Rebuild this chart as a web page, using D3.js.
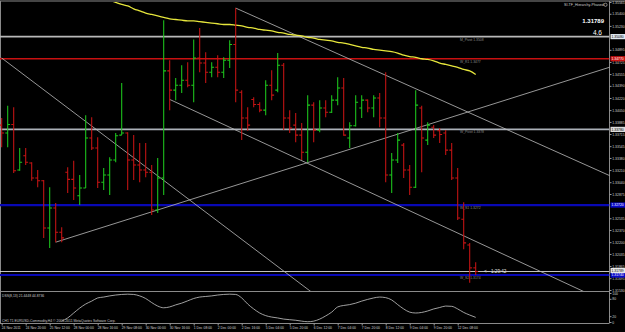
<!DOCTYPE html>
<html>
<head>
<meta charset="utf-8">
<script src="https://cdn.jsdelivr.net/npm/d3@7"></script>
<style>
  body { margin: 0; background: #000; }
  svg { display: block; }
  text { font-family: "Liberation Sans", Arial, sans-serif; }
</style>
</head>
<body>
<svg id="chart" width="625" height="332"></svg>
<script>
// H4 bars, 24 Nov 2011 04:00 .. 12 Dec 2011 20:00
let opens = [
  1.3384, 1.3373, 1.3385, 1.3321, 1.3341, 1.3331, 1.3310, 1.3306, 1.3240, 1.3268,
  1.3234, 1.3318, 1.3308, 1.3285, 1.3296, 1.3366, 1.3352, 1.3304, 1.3314, 1.3335,
  1.3370, 1.3373, 1.3335, 1.3328, 1.3321, 1.3318, 1.3265, 1.3310, 1.3460, 1.3433,
  1.3440, 1.3447, 1.3440, 1.3478, 1.3471, 1.3458, 1.3465, 1.3458, 1.3475, 1.3497,
  1.3430, 1.3394, 1.3420, 1.3413, 1.3405, 1.3440, 1.3433, 1.3468, 1.3394, 1.3384,
  1.3370, 1.3346, 1.3412, 1.3377, 1.3408, 1.3402, 1.3419, 1.3436, 1.3366, 1.3383,
  1.3408, 1.3419, 1.3408, 1.3422, 1.3394, 1.3314, 1.3335, 1.3356, 1.3321, 1.3297,
  1.3408, 1.3363, 1.3381, 1.3376, 1.3373, 1.3349, 1.3310, 1.3252, 1.3216, 1.3184
]
let highs = [
  1.3394, 1.3411, 1.3409, 1.3352, 1.3352, 1.3332, 1.3321, 1.3307, 1.3297, 1.3275,
  1.3241, 1.3325, 1.3334, 1.3314, 1.3398, 1.3395, 1.3367, 1.3324, 1.3339, 1.3373,
  1.3443, 1.3374, 1.3370, 1.3359, 1.3359, 1.3328, 1.3338, 1.3531, 1.3475, 1.3450,
  1.3468, 1.3472, 1.3504, 1.3520, 1.3486, 1.3472, 1.3482, 1.3479, 1.3503, 1.3548,
  1.3433, 1.3409, 1.3423, 1.3416, 1.3447, 1.3461, 1.3485, 1.3471, 1.3405, 1.3401,
  1.3387, 1.3426, 1.3416, 1.3419, 1.3419, 1.3426, 1.3451, 1.3450, 1.3388, 1.3426,
  1.3426, 1.3420, 1.3426, 1.3429, 1.3458, 1.3345, 1.3373, 1.3359, 1.3328, 1.3433,
  1.3411, 1.3388, 1.3384, 1.3380, 1.3377, 1.3359, 1.3324, 1.3276, 1.3219, 1.3192
]
let lows = [
  1.3353, 1.3353, 1.3317, 1.3320, 1.3328, 1.3306, 1.3297, 1.3226, 1.3212, 1.3220,
  1.3220, 1.3289, 1.3279, 1.3272, 1.3296, 1.3349, 1.3296, 1.3293, 1.3286, 1.3332,
  1.3370, 1.3293, 1.3307, 1.3304, 1.3311, 1.3258, 1.3261, 1.3286, 1.3405, 1.3419,
  1.3429, 1.3437, 1.3416, 1.3458, 1.3443, 1.3451, 1.3451, 1.3450, 1.3464, 1.3416,
  1.3363, 1.3376, 1.3409, 1.3402, 1.3398, 1.3419, 1.3430, 1.3377, 1.3373, 1.3360,
  1.3335, 1.3332, 1.3360, 1.3374, 1.3395, 1.3401, 1.3412, 1.3369, 1.3352, 1.3382,
  1.3394, 1.3402, 1.3395, 1.3381, 1.3304, 1.3289, 1.3331, 1.3310, 1.3286, 1.3296,
  1.3318, 1.3356, 1.3366, 1.3359, 1.3342, 1.3307, 1.3251, 1.3210, 1.3163, 1.3174
]
let closes = [
  1.3373, 1.3385, 1.3320, 1.3332, 1.3332, 1.3310, 1.3306, 1.3240, 1.3268, 1.3234,
  1.3226, 1.3308, 1.3296, 1.3296, 1.3366, 1.3352, 1.3304, 1.3314, 1.3335, 1.3369,
  1.3373, 1.3335, 1.3328, 1.3321, 1.3318, 1.3265, 1.3310, 1.3460, 1.3433, 1.3440,
  1.3447, 1.3440, 1.3478, 1.3471, 1.3458, 1.3465, 1.3458, 1.3475, 1.3497, 1.3433,
  1.3394, 1.3384, 1.3413, 1.3405, 1.3440, 1.3426, 1.3468, 1.3394, 1.3380, 1.3370,
  1.3346, 1.3412, 1.3377, 1.3408, 1.3402, 1.3419, 1.3436, 1.3370, 1.3383, 1.3416,
  1.3419, 1.3408, 1.3422, 1.3394, 1.3314, 1.3335, 1.3363, 1.3321, 1.3297, 1.3412,
  1.3366, 1.3384, 1.3370, 1.3371, 1.3349, 1.3310, 1.3254, 1.3219, 1.3184, 1.31789
]

// yellow moving average, from bar 15 on
let maStart = 15
let maValues = [
  1.3570, 1.3566, 1.3562, 1.3559, 1.3556, 1.3553, 1.3551, 1.3547, 1.3544, 1.3541,
  1.3539, 1.3537, 1.3535, 1.3533, 1.3532, 1.3531, 1.3530, 1.3530, 1.3529, 1.3528,
  1.3527, 1.3526, 1.3525, 1.3525, 1.3524, 1.3523, 1.3521, 1.3520, 1.3518, 1.3517,
  1.3516, 1.3514, 1.3513, 1.3511, 1.3510, 1.3509, 1.3507, 1.3506, 1.3504, 1.3503,
  1.3502, 1.3500, 1.3499, 1.3497, 1.3495, 1.3493, 1.3492, 1.3490, 1.3489, 1.3488,
  1.3487, 1.3485, 1.3482, 1.3480, 1.3479, 1.3477, 1.3476, 1.3474, 1.3471, 1.3469,
  1.3467, 1.3465, 1.3462, 1.3460, 1.3455
]

// DSS line in the sub window, from bar 10 on
let dssStart = 10
let dssValues = [
  3, 14, 31, 48, 62, 72, 83, 86, 90, 93,
  95, 96, 95, 90, 81, 67, 55, 49, 52, 59,
  65, 73, 81, 86, 88, 90, 93, 95, 96, 95,
  83, 62, 45, 31, 22, 17, 14, 10, 8, 6,
  3, 1, 3, 10, 21, 34, 52, 57, 60, 65,
  72, 78, 83, 86, 84, 76, 60, 45, 34, 31,
  33, 38, 45, 50, 55, 54, 45, 33, 24, 16
]

// horizontal pivot levels
let levelNames = ['M_Pivot', 'W_R1', 'W_Pivot', 'W_S1', 'W_S2']
let levelValues = [1.3508, 1.3477, 1.3378, 1.3272, 1.3174]
let lastPrice = 1.31789

// trend lines: [bar, price] anchor pairs
let trendLines = [
  [[0, 1.3478], [40, 1.3224]],
  [[9, 1.3220], [67, 1.3374]],
  [[39, 1.3548], [69, 1.3435]],
  [[28, 1.3420], [68, 1.3264]]
]

let timeBars = [0, 4, 8, 12, 16, 20, 24, 28, 32, 36, 40, 44, 48, 52, 56, 60, 64, 68, 72, 76]
let timeLabels = [
  '24 Nov 2011', '24 Nov 20:00', '25 Nov 12:00', '28 Nov 00:00', '28 Nov 16:00',
  '29 Nov 08:00', '30 Nov 00:00', '30 Nov 16:00', '1 Dec 08:00', '2 Dec 00:00',
  '2 Dec 16:00', '5 Dec 04:00', '5 Dec 20:00', '6 Dec 12:00', '7 Dec 04:00',
  '7 Dec 20:00', '8 Dec 12:00', '9 Dec 04:00', '9 Dec 20:00', '12 Dec 08:00'
]
let priceTicks = [
  1.35565, 1.35400, 1.35230, 1.35060, 1.34895, 1.34725, 1.34555, 1.34390, 1.34220,
  1.34050, 1.33885, 1.33715, 1.33545, 1.33380, 1.33210, 1.33040, 1.32875, 1.32705,
  1.32535, 1.32370, 1.32200, 1.32035, 1.31865, 1.31695, 1.31530
]
let dssTicks = [0, 20, 80, 100]

let bars = opens.map((o, i) => ({i, o, h: highs[i], l: lows[i], c: closes[i]}))

let svg = d3.select('#chart')
let plotRight = 609.5
let font = '"Liberation Sans", Arial, sans-serif'

let x = d3.scaleLinear().domain([0, 79]).range([1.7, 475.7])
let y = d3.scaleLinear().domain([1.3153, 1.35565]).range([290, 2])
let yDss = d3.scaleLinear().domain([0, 100]).range([322, 293])

svg.append('rect').attr('width', 625).attr('height', 332).attr('fill', '#000')

let defs = svg.append('defs')
defs.append('clipPath').attr('id', 'mainClip')
  .append('rect').attr('x', 0).attr('y', 2).attr('width', plotRight).attr('height', 289)
defs.append('clipPath').attr('id', 'dssClip')
  .append('rect').attr('x', 0).attr('y', 292).attr('width', plotRight).attr('height', 31)

// frame
let frame = svg.append('g').attr('stroke', '#8a8a8a').attr('fill', 'none')
frame.append('line').attr('x1', 0).attr('x2', 625).attr('y1', 1).attr('y2', 1)
frame.append('line').attr('x1', 0.5).attr('x2', 0.5).attr('y1', 1).attr('y2', 323)
frame.append('line').attr('x1', plotRight).attr('x2', plotRight).attr('y1', 1).attr('y2', 323)
frame.append('line').attr('x1', 0).attr('x2', plotRight).attr('y1', 291.5).attr('y2', 291.5)
frame.append('line').attr('x1', 0).attr('x2', plotRight).attr('y1', 323.5).attr('y2', 323.5)

let main = svg.append('g').attr('clip-path', 'url(#mainClip)')

// level lines
let levelColor = {M_Pivot: '#b8b8b8', W_R1: '#c81010', W_Pivot: '#aab0b8', W_S1: '#0808b4', W_S2: '#0808b4'}
let levelWidth = {M_Pivot: 1.6, W_R1: 1.6, W_Pivot: 1.6, W_S1: 2.2, W_S2: 2.2}

main.selectAll('.level')
  .data(levelNames)
  .enter()
  .append('line')
  .attr('x1', 0).attr('x2', plotRight)
  .attr('y1', (d, i) => y(levelValues[i])).attr('y2', (d, i) => y(levelValues[i]))
  .attr('stroke', d => levelColor[d])
  .attr('stroke-width', d => levelWidth[d])

main.selectAll('.level-text')
  .data(levelNames)
  .enter()
  .append('text')
  .attr('x', 460)
  .attr('y', (d, i) => y(levelValues[i]) + 4)
  .attr('fill', '#8c8c8c')
  .attr('font-size', 3.4)
  .text((d, i) => `${d} ${levelValues[i].toFixed(4)}`)

// bid line
main.append('line')
  .attr('x1', 0).attr('x2', plotRight)
  .attr('y1', y(lastPrice)).attr('y2', y(lastPrice))
  .attr('stroke', '#d8d8d8').attr('stroke-width', 0.9)

// trend lines, drawn as rays
main.selectAll('.trend')
  .data(trendLines)
  .enter()
  .append('line')
  .attr('stroke', '#bdbdbd')
  .attr('stroke-width', 0.8)
  .each(function (d) {
    let [a, b] = d
    let x1 = x(a[0]), y1 = y(a[1]), x2 = x(b[0]), y2 = y(b[1])
    let k = (y2 - y1) / (x2 - x1)
    d3.select(this)
      .attr('x1', x1).attr('y1', y1)
      .attr('x2', 700).attr('y2', y1 + k * (700 - x1))
  })

// moving average
let maLine = d3.line()
  .x((d, i) => x(maStart + i))
  .y(d => y(d))
  .curve(d3.curveMonotoneX)

main.append('path')
  .datum(maValues)
  .attr('d', maLine)
  .attr('fill', 'none')
  .attr('stroke', '#e6e63c')
  .attr('stroke-width', 1.3)

// OHLC bars
let bar = main.selectAll('.bar')
  .data(bars)
  .enter()
  .append('g')
  .attr('stroke', d => d.c >= d.o ? '#1ec81e' : '#c81414')
  .attr('stroke-width', 1.05)

bar.append('line')
  .attr('x1', d => x(d.i)).attr('x2', d => x(d.i))
  .attr('y1', d => y(d.h)).attr('y2', d => y(d.l))
bar.append('line')
  .attr('x1', d => x(d.i) - 2.4).attr('x2', d => x(d.i))
  .attr('y1', d => y(d.o)).attr('y2', d => y(d.o))
bar.append('line')
  .attr('x1', d => x(d.i)).attr('x2', d => x(d.i) + 2.4)
  .attr('y1', d => y(d.c)).attr('y2', d => y(d.c))

// countdown
main.append('text')
  .attr('x', 484).attr('y', y(lastPrice) + 1.6)
  .attr('fill', '#e0e0e0').attr('font-size', 4.6)
  .text('<-- 1:29:42')

// DSS sub window
let dssLine = d3.line()
  .x((d, i) => x(dssStart + i))
  .y(d => yDss(d))
  .curve(d3.curveMonotoneX)

svg.append('g').attr('clip-path', 'url(#dssClip)')
  .append('path')
  .datum(dssValues)
  .attr('d', dssLine)
  .attr('fill', 'none')
  .attr('stroke', '#c8c8c8')
  .attr('stroke-width', 0.8)

svg.append('text')
  .attr('x', 2).attr('y', 297)
  .attr('fill', '#c8c8c8').attr('font-size', 3.4)
  .text('DSS(8,13) 21.4448 44.8736')

svg.append('text')
  .attr('x', 2).attr('y', 322)
  .attr('fill', '#c8c8c8').attr('font-size', 3.4)
  .text('CH1 T1 EURUSD-Commodity,H4  © 2001-2011 MetaQuotes Software Corp.')

// price axis, labels hidden where a level box sits on them
let boxValues = levelValues.concat([lastPrice])
let freeTicks = priceTicks.filter(t => boxValues.every(v => Math.abs(y(t) - y(v)) > 3.2))

let priceAxis = svg.append('g')
  .attr('transform', `translate(${plotRight},0)`)
  .call(d3.axisRight(y).tickValues(freeTicks).tickFormat(d3.format('.5f')).tickSize(2).tickPadding(0.8))
let dssAxis = svg.append('g')
  .attr('transform', `translate(${plotRight},0)`)
  .call(d3.axisRight(yDss).tickValues(dssTicks).tickSize(2).tickPadding(0.8))

let timeAxis = svg.append('g')
  .attr('transform', 'translate(0,323.5)')
  .call(d3.axisBottom(x).tickValues(timeBars).tickFormat((d, i) => timeLabels[i]).tickSize(2).tickPadding(0.8))

for (let ax of [priceAxis, dssAxis, timeAxis]) {
  ax.select('.domain').remove()
  ax.selectAll('line').attr('stroke', '#9a9a9a')
  ax.selectAll('text').attr('fill', '#d0d0d0').attr('font-size', 3.4)
    .attr('font-family', font)
}
timeAxis.selectAll('text').attr('text-anchor', 'start').attr('dx', '-0.5')

// price boxes on the axis
let boxFill = {M_Pivot: '#dfe8f0', W_R1: '#c81010', W_Pivot: '#dcdcdc', W_S1: '#0808c8', W_S2: '#0808c8'}
let boxText = {M_Pivot: '#000', W_R1: '#fff', W_Pivot: '#000', W_S1: '#fff', W_S2: '#fff'}
let boxes = svg.selectAll('.pbox')
  .data(levelNames)
  .enter()
  .append('g')
  .attr('transform', (d, i) => `translate(${plotRight + 1},${y(levelValues[i])})`)
boxes.append('rect')
  .attr('x', 0).attr('y', -2.6).attr('width', 15).attr('height', 5.2)
  .attr('fill', d => boxFill[d])
boxes.append('text')
  .attr('x', 1).attr('y', 1.2)
  .attr('font-size', 3.4)
  .attr('fill', d => boxText[d])
  .text((d, i) => levelValues[i].toFixed(5))

let lastBox = svg.append('g').attr('transform', `translate(${plotRight + 1},${y(lastPrice) - 1})`)
lastBox.append('rect').attr('x', 0).attr('y', -2.6).attr('width', 15).attr('height', 5.2).attr('fill', '#e8e8e8')
lastBox.append('text').attr('x', 1).attr('y', 1.2).attr('font-size', 3.4).attr('fill', '#000').text(lastPrice.toFixed(5))

// top right info
svg.append('text')
  .attr('x', 564).attr('y', 6)
  .attr('fill', '#d0d0d0').attr('font-size', 3.6)
  .text('SI-TF_Hierarchy-Phased')
svg.append('circle')
  .attr('cx', 605.5).attr('cy', 4.8).attr('r', 1.6)
  .attr('fill', 'none').attr('stroke', '#d0d0d0').attr('stroke-width', 0.6)
svg.append('text')
  .attr('x', 604).attr('y', 22.5)
  .attr('text-anchor', 'end')
  .attr('fill', '#fff').attr('font-size', 6).attr('font-weight', 'bold')
  .text(lastPrice.toFixed(5))
svg.append('text')
  .attr('x', 602).attr('y', 34.5)
  .attr('text-anchor', 'end')
  .attr('fill', '#fff').attr('font-size', 6.5)
  .text('4.6')
</script>
</body>
</html>
